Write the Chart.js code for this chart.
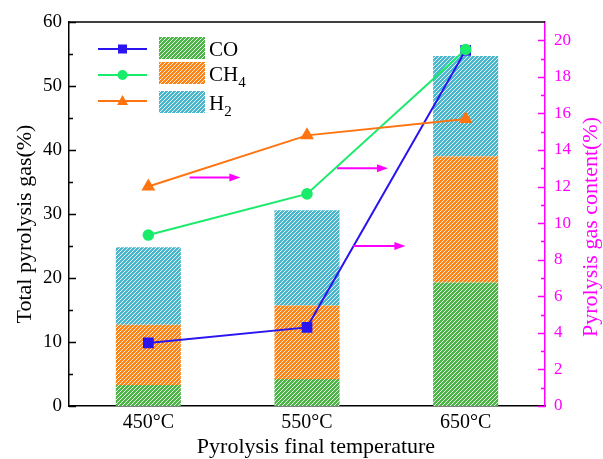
<!DOCTYPE html>
<html>
<head>
<meta charset="utf-8">
<script src="https://cdn.jsdelivr.net/npm/chart.js@4.4.1/dist/chart.umd.min.js"></script>
<style>
  html, body { margin: 0; padding: 0; background: #fff; }
  #wrap { width: 603px; height: 459px; }
</style>
</head>
<body>
<div id="wrap"><canvas id="gasChart"></canvas></div>
<script>
// Pyrolysis gas: stacked totals (left axis) and gas content lines (right axis)
const temperatures = ['450°C', '550°C', '650°C'];

// stacked bar parts, total pyrolysis gas (%)
const coTotal = [3.3, 4.2, 19.3];
const ch4Total = [9.4, 11.5, 19.7];
const h2Total = [12.1, 14.9, 15.7];

// gas content (%)
const coContent = [3.45, 4.3, 19.45];
const ch4Content = [9.35, 11.6, 19.5];
const h2Content = [12.0, 14.8, 15.7];

// arrows pointing to the right axis: [x start, x end] in category units, y on right axis
const arrowSpecs = [
  { from: 0.26, to: 0.58, y: 12.5 },
  { from: 1.19, to: 1.51, y: 13.0 },
  { from: 1.29, to: 1.62, y: 8.75 }
];

const FONT = "'Liberation Serif', 'Times New Roman', serif";
const MAGENTA = '#ff00ff';

function hatch(color) {
  const s = 4;
  const c = document.createElement('canvas');
  c.width = s; c.height = s;
  const g = c.getContext('2d');
  g.fillStyle = color;
  g.fillRect(0, 0, s, s);
  g.strokeStyle = 'rgba(255,255,255,0.85)';
  g.lineWidth = 1;
  g.beginPath();
  g.moveTo(-1, s + 1); g.lineTo(s + 1, -1);
  g.moveTo(-1, 1); g.lineTo(1, -1);
  g.moveTo(s - 1, s + 1); g.lineTo(s + 1, s - 1);
  g.stroke();
  return g.createPattern(c, 'repeat');
}

const green = '#4db548', orange = '#ff8417', cyan = '#4bb7cc';
const greenFill = hatch(green), orangeFill = hatch(orange), cyanFill = hatch(cyan);

// inward ticks, top frame line, axis titles, arrows and the legend
const decorations = {
  id: 'decorations',
  afterDatasetsDraw(chart) {
    const ctx = chart.ctx;
    const a = chart.chartArea;
    const y = chart.scales.y, y2 = chart.scales.y2, x = chart.scales.x;
    ctx.save();
    ctx.lineWidth = 1.5;
    ctx.strokeStyle = '#000';
    ctx.beginPath();
    ctx.moveTo(a.left, a.top); ctx.lineTo(a.right, a.top);
    for (let v = 0; v <= 60; v += 5) {
      const py = Math.round(y.getPixelForValue(v)) + 0.5;
      ctx.moveTo(a.left, py); ctx.lineTo(a.left + (v % 10 === 0 ? 7 : 4), py);
    }
    ctx.stroke();
    ctx.strokeStyle = MAGENTA;
    ctx.beginPath();
    for (let v = 0; v <= 20; v += 1) {
      const py = Math.round(y2.getPixelForValue(v)) + 0.5;
      ctx.moveTo(a.right, py); ctx.lineTo(a.right - (v % 2 === 0 ? 7 : 4), py);
    }
    ctx.stroke();

    // axis titles; the vertical ones read bottom to top
    ctx.font = '22px ' + FONT;
    ctx.textAlign = 'center';
    ctx.textBaseline = 'middle';
    const midY = (a.top + a.bottom) / 2 + 10;
    ctx.fillStyle = '#000';
    ctx.fillText('Pyrolysis final temperature', (a.left + a.right) / 2 + 9, 447);
    ctx.save(); ctx.translate(25, midY); ctx.rotate(-Math.PI / 2);
    ctx.fillText('Total pyrolysis gas(%)', 0, 0); ctx.restore();
    ctx.fillStyle = MAGENTA;
    ctx.save(); ctx.translate(591, midY + 3); ctx.rotate(-Math.PI / 2);
    ctx.fillText('Pyrolysis gas content(%)', 0, 0); ctx.restore();
    ctx.textAlign = 'left';

    // arrows
    ctx.strokeStyle = MAGENTA;
    ctx.fillStyle = MAGENTA;
    ctx.lineWidth = 2;
    arrowSpecs.forEach(s => {
      const x0 = x.getPixelForValue(s.from), x1 = x.getPixelForValue(s.to);
      const py = y2.getPixelForValue(s.y);
      ctx.beginPath();
      ctx.moveTo(x0, py); ctx.lineTo(x1 - 8, py);
      ctx.stroke();
      ctx.beginPath();
      ctx.moveTo(x1, py); ctx.lineTo(x1 - 11, py - 4); ctx.lineTo(x1 - 11, py + 4);
      ctx.closePath(); ctx.fill();
    });

    // legend
    const rows = [
      { line: '#2a14f0', style: 'rect', fill: greenFill, base: 'CO', sub: '' },
      { line: '#19eb6a', style: 'circle', fill: orangeFill, base: 'CH', sub: '4' },
      { line: '#ff7410', style: 'triangle', fill: cyanFill, base: 'H', sub: '2' }
    ];
    const lx = a.left + 29, bx = a.left + 90;
    const rowY = [a.top + 27, a.top + 53, a.top + 79];
    const boxTop = [a.top + 15, a.top + 40, a.top + 69];
    rows.forEach((r, i) => {
      const cy = rowY[i];
      ctx.strokeStyle = r.line; ctx.fillStyle = r.line; ctx.lineWidth = 2;
      ctx.beginPath(); ctx.moveTo(lx, cy); ctx.lineTo(lx + 49, cy); ctx.stroke();
      const mx = lx + 24.5;
      ctx.beginPath();
      if (r.style === 'rect') ctx.rect(mx - 4.5, cy - 4.5, 9, 9);
      else if (r.style === 'circle') ctx.arc(mx, cy, 5, 0, Math.PI * 2);
      else { ctx.moveTo(mx, cy - 6); ctx.lineTo(mx + 5.5, cy + 4); ctx.lineTo(mx - 5.5, cy + 4); ctx.closePath(); }
      ctx.fill();
      ctx.fillStyle = r.fill;
      ctx.fillRect(bx, boxTop[i], 46, 22);
      ctx.fillStyle = '#000';
      ctx.font = '21px ' + FONT;
      ctx.textBaseline = 'alphabetic';
      ctx.fillText(r.base, bx + 50, boxTop[i] + 19);
      if (r.sub) {
        const w = ctx.measureText(r.base).width;
        ctx.font = '15px ' + FONT;
        ctx.fillText(r.sub, bx + 50 + w, boxTop[i] + 25);
      }
    });
    ctx.restore();
  }
};

const barCommon = { yAxisID: 'y', stack: 'gas', borderWidth: 0, barPercentage: 0.41, categoryPercentage: 1, order: 10 };
const lineCommon = { type: 'line', yAxisID: 'y2', borderWidth: 2, fill: false, tension: 0 };

new Chart(document.getElementById('gasChart'), {
  type: 'bar',
  data: {
    labels: temperatures,
    datasets: [
      { ...barCommon, label: 'CO bar', data: coTotal, backgroundColor: greenFill },
      { ...barCommon, label: 'CH4 bar', data: ch4Total, backgroundColor: orangeFill },
      { ...barCommon, label: 'H2 bar', data: h2Total, backgroundColor: cyanFill },
      { ...lineCommon, label: 'CO', data: coContent, borderColor: '#2a14f0', backgroundColor: '#2a14f0',
        pointStyle: 'rect', pointRadius: 6.2, order: 3 },
      { ...lineCommon, label: 'CH4', data: ch4Content, borderColor: '#19eb6a', backgroundColor: '#19eb6a',
        pointStyle: 'circle', pointRadius: 4.8, order: 2 },
      { ...lineCommon, label: 'H2', data: h2Content, borderColor: '#ff7410', backgroundColor: '#ff7410',
        pointStyle: 'triangle', pointRadius: 6, order: 1 }
    ]
  },
  options: {
    responsive: true,
    maintainAspectRatio: false,
    animation: false,
    layout: { padding: { top: 22, left: 0, right: 0, bottom: 0 } },
    plugins: { legend: { display: false }, tooltip: { enabled: false } },
    elements: { point: { borderWidth: 0 } },
    scales: {
      x: {
        stacked: true,
        offset: true,
        grid: { display: false, drawTicks: false },
        border: { display: true, color: '#000', width: 1.5 },
        ticks: { color: '#000', font: { family: FONT, size: 20 }, padding: 5 },
        afterFit: s => { s.height = 53; }
      },
      y: {
        stacked: true,
        min: 0, max: 60,
        grid: { display: false, drawTicks: false },
        border: { display: true, color: '#000', width: 1.5 },
        ticks: { stepSize: 10, color: '#000', font: { family: FONT, size: 19 }, padding: 7 },
        afterFit: s => { s.width = 69; }
      },
      y2: {
        position: 'right',
        min: 0, max: 21,
        grid: { display: false, drawTicks: false },
        border: { display: true, color: MAGENTA, width: 1.5 },
        ticks: { stepSize: 2, includeBounds: false, color: MAGENTA, font: { family: FONT, size: 17 }, padding: 9 },
        afterFit: s => { s.width = 58; }
      }
    }
  },
  plugins: [decorations]
});
</script>
</body>
</html>
